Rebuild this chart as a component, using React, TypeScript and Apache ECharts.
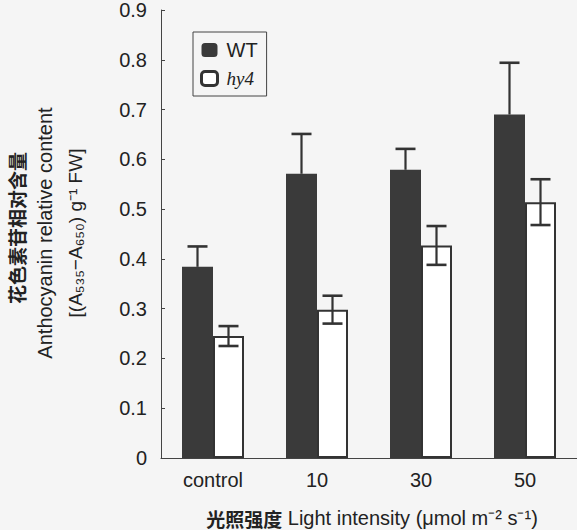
import React, { useEffect, useRef } from "react";
import * as echarts from "echarts";

const categories = ["control", "10", "30", "50"];
const wtValues = [0.384, 0.571, 0.579, 0.69];
const wtErrors = [0.041, 0.08, 0.042, 0.104];
const hy4Values = [0.245, 0.298, 0.427, 0.514];
const hy4Errors = [0.02, 0.028, 0.039, 0.046];
const yMin = 0;
const yMax = 0.9;
const yInterval = 0.1;

const DARK = "#333333";
const TEXT = "#222222";
const SANS = "'Liberation Sans', Arial, sans-serif";
const CJK = "'Noto Sans CJK SC', sans-serif";

function errorSeries(name: string, values: number[], errors: number[], offset: number, twoSided: boolean) {
  return {
    name,
    type: "custom",
    z: 5,
    silent: true,
    encode: { x: 0, y: 3 },
    data: values.map((v, i) => [i, v, twoSided ? v - errors[i] : v, v + errors[i]]),
    renderItem: (params: any, api: any) => {
      const idx = api.value(0);
      const lo = api.coord([idx, api.value(2)]);
      const hi = api.coord([idx, api.value(3)]);
      const cx = lo[0] + offset;
      const half = 10;
      const style = { stroke: DARK, lineWidth: 2.2 };
      const children: any[] = [
        { type: "line", shape: { x1: cx, y1: lo[1], x2: cx, y2: hi[1] }, style },
        { type: "line", shape: { x1: cx - half, y1: hi[1], x2: cx + half, y2: hi[1] }, style: { stroke: DARK, lineWidth: 2.6 } },
      ];
      if (twoSided) {
        children.push({ type: "line", shape: { x1: cx - half, y1: lo[1], x2: cx + half, y2: lo[1] }, style: { stroke: DARK, lineWidth: 2.6 } });
      }
      return { type: "group", children };
    },
  };
}

export default function App() {
  const ref = useRef<HTMLDivElement>(null);
  useEffect(() => {
    if (!ref.current) return;
    const chart = echarts.init(ref.current, null, { renderer: "svg" });
    const barW = 31;
    chart.setOption({
      animation: false,
      backgroundColor: "#f5f5f5",
      grid: { left: 161, top: 10, width: 416, bottom: 72, containLabel: false },
      legend: {
        orient: "vertical",
        left: 193,
        top: 32,
        padding: [8, 9, 8, 7],
        itemWidth: 16,
        itemHeight: 14,
        itemGap: 9,
        borderColor: "#444",
        borderWidth: 1,
        textStyle: { fontSize: 20, fontFamily: SANS, color: TEXT, padding: [0, 0, 0, 4] },
        data: [
          { name: "WT", itemStyle: { color: "#3a3a3a", borderWidth: 0 } },
          {
            name: "hy4",
            itemStyle: { color: "#ffffff", borderColor: DARK, borderWidth: 3 },
            textStyle: { fontStyle: "italic", fontFamily: "'Liberation Serif', serif", fontSize: 19, color: TEXT },
          },
        ],
      },
      xAxis: {
        type: "category",
        data: categories,
        axisLine: { lineStyle: { color: "#444", width: 1 } },
        axisTick: { inside: true, length: 4, lineStyle: { color: "#444" } },
        axisLabel: { fontSize: 20, fontFamily: SANS, color: TEXT, margin: 12 },
      },
      yAxis: {
        type: "value",
        min: yMin,
        max: yMax,
        interval: yInterval,
        splitLine: { show: false },
        axisLine: { show: true, lineStyle: { color: "#444", width: 1 } },
        axisTick: { show: true, inside: true, length: 4, lineStyle: { color: "#444" } },
        axisLabel: {
          fontSize: 20,
          fontFamily: SANS,
          color: TEXT,
          margin: 14,
          formatter: (v: number) => (v === 0 ? "0" : v.toFixed(1)),
        },
      },
      series: [
        {
          name: "WT",
          type: "bar",
          data: wtValues,
          barWidth: barW,
          barGap: "0%",
          itemStyle: { color: "#3a3a3a" },
        },
        {
          name: "hy4",
          type: "bar",
          data: hy4Values,
          barWidth: barW,
          barGap: "0%",
          itemStyle: { color: "#ffffff", borderColor: DARK, borderWidth: 2 },
        },
        errorSeries("WT error", wtValues, wtErrors, -barW / 2, false),
        errorSeries("hy4 error", hy4Values, hy4Errors, barW / 2, true),
      ],
      graphic: [
        {
          type: "text",
          x: 16,
          y: 228,
          rotation: Math.PI / 2,
          style: {
            text: "花色素苷相对含量",
            fontSize: 19,
            fontWeight: "bold",
            fontFamily: CJK,
            fill: TEXT,
            align: "center",
            verticalAlign: "middle",
          },
        },
        {
          type: "text",
          x: 45,
          y: 233,
          rotation: Math.PI / 2,
          style: {
            text: "Anthocyanin relative content",
            fontSize: 20,
            fontFamily: SANS,
            fill: TEXT,
            align: "center",
            verticalAlign: "middle",
          },
        },
        {
          type: "text",
          x: 75,
          y: 233,
          rotation: Math.PI / 2,
          style: {
            text: "[(A₅₃₅−A₆₅₀) g⁻¹ FW]",
            fontSize: 19,
            fontFamily: SANS,
            fill: TEXT,
            align: "center",
            verticalAlign: "middle",
          },
        },
        {
          type: "text",
          x: 372,
          y: 518,
          style: {
            text: "{cn|光照强度} Light intensity (μmol m⁻² s⁻¹)",
            fontSize: 20,
            fontFamily: SANS,
            fill: TEXT,
            align: "center",
            verticalAlign: "middle",
            rich: {
              cn: { fontSize: 19, fontWeight: "bold", fontFamily: CJK, fill: TEXT, color: TEXT },
            },
          },
        },
      ],
    });
    return () => chart.dispose();
  }, []);
  return (
    <div
      ref={ref}
      style={{ position: "fixed", left: 0, top: 0, width: 577, height: 530, background: "#f5f5f5" }}
    />
  );
}
